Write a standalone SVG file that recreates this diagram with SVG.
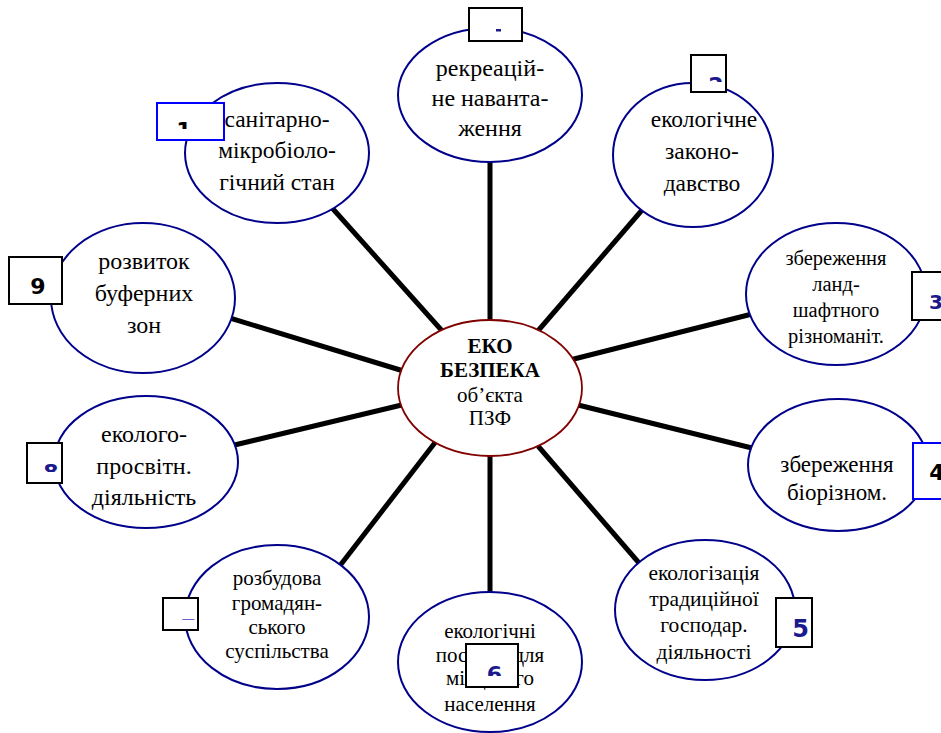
<svg xmlns="http://www.w3.org/2000/svg" width="941" height="733" viewBox="0 0 941 733">
<style>
.sat{fill:#fff;stroke:#00008B;stroke-width:2}
.ctr{fill:#fff;stroke:#800000;stroke-width:1.8}
.t{font-family:"Liberation Serif","Times New Roman",serif;text-anchor:middle;fill:#000}
.bx{fill:#fff;stroke:#000;stroke-width:2}
.bxb{fill:#fff;stroke:#0000FF;stroke-width:2}
.n{font-family:"DejaVu Sans",Verdana,sans-serif;font-weight:bold;text-anchor:middle}
.nb{fill:#000}
.nn{fill:#1A1A8C}
#conn line{stroke:#000;stroke-width:5}
</style>
<defs>
<clipPath id="c1"><rect x="158" y="104" width="65" height="25"/></clipPath>
<clipPath id="c2"><rect x="692" y="56" width="33" height="26"/></clipPath>
<clipPath id="c6"><rect x="467" y="645" width="50" height="31"/></clipPath>
<clipPath id="c7"><rect x="164" y="599" width="33" height="21"/></clipPath>
<clipPath id="c8"><rect x="28" y="444" width="33" height="28"/></clipPath>
</defs>
<rect width="941" height="733" fill="#fff"/>
<g id="conn">
<line x1="490" y1="150" x2="490" y2="330"/>
<line x1="537" y1="332" x2="655" y2="195"/>
<line x1="570" y1="360" x2="760" y2="312"/>
<line x1="570" y1="403" x2="760" y2="450"/>
<line x1="538" y1="446" x2="652" y2="578"/>
<line x1="490" y1="450" x2="490" y2="605"/>
<line x1="444" y1="431" x2="325" y2="585"/>
<line x1="410" y1="403" x2="222" y2="448"/>
<line x1="410" y1="373" x2="220" y2="315"/>
<line x1="444" y1="333" x2="325" y2="200"/>
</g>
<g id="center">
<ellipse class="ctr" cx="490" cy="388" rx="92" ry="68"/>
<text class="t" font-size="21" font-weight="bold"><tspan x="490" y="353">ЕКО</tspan><tspan x="490" y="377">БЕЗПЕКА</tspan></text>
<text class="t" font-size="21"><tspan x="490" y="402">об’єкта</tspan><tspan x="490" y="425">ПЗФ</tspan></text>
</g>
<g id="n-top">
<ellipse class="sat" cx="490" cy="95" rx="92" ry="67"/>
<text class="t" font-size="24"><tspan x="490" y="76">рекреацій-</tspan><tspan x="490" y="106">не наванта-</tspan><tspan x="490" y="136">ження</tspan></text>
</g>
<g id="n-2">
<ellipse class="sat" cx="693" cy="155" rx="80" ry="72"/>
<text class="t" font-size="23.5"><tspan x="704" y="127">екологічне</tspan><tspan x="702" y="159">законо-</tspan><tspan x="702" y="191">давство</tspan></text>
</g>
<g id="n-3">
<ellipse class="sat" cx="836" cy="294" rx="90" ry="71"/>
<text class="t" font-size="20.5"><tspan x="836" y="265">збереження</tspan><tspan x="836" y="291">ланд-</tspan><tspan x="836" y="317">шафтного</tspan><tspan x="836" y="343">різноманіт.</tspan></text>
</g>
<g id="n-4">
<ellipse class="sat" cx="838" cy="465" rx="90" ry="66"/>
<text class="t" font-size="23"><tspan x="837" y="472">збереження</tspan><tspan x="837" y="500">біорізном.</tspan></text>
</g>
<g id="n-5">
<ellipse class="sat" cx="705" cy="610" rx="90" ry="70"/>
<text class="t" font-size="21.5"><tspan x="704" y="580">екологізація</tspan><tspan x="704" y="606">традиційної</tspan><tspan x="704" y="632">господар.</tspan><tspan x="704" y="659">діяльності</tspan></text>
</g>
<g id="n-6">
<ellipse class="sat" cx="490" cy="662" rx="92" ry="70"/>
<text class="t" font-size="21"><tspan x="490" y="638">екологічні</tspan><tspan x="490" y="662">послуги для</tspan><tspan x="490" y="685">місцевого</tspan><tspan x="490" y="711">населення</tspan></text>
</g>
<g id="n-7">
<ellipse class="sat" cx="277" cy="617" rx="92" ry="72"/>
<text class="t" font-size="21"><tspan x="277" y="585">розбудова</tspan><tspan x="277" y="610">громадян-</tspan><tspan x="277" y="634">ського</tspan><tspan x="277" y="658">суспільства</tspan></text>
</g>
<g id="n-8">
<ellipse class="sat" cx="146" cy="462" rx="92" ry="66"/>
<text class="t" font-size="24"><tspan x="144" y="442">еколого-</tspan><tspan x="144" y="474">просвітн.</tspan><tspan x="144" y="505">діяльність</tspan></text>
</g>
<g id="n-9">
<ellipse class="sat" cx="143" cy="298" rx="92" ry="75"/>
<text class="t" font-size="24"><tspan x="144" y="269">розвиток</tspan><tspan x="144" y="301">буферних</tspan><tspan x="144" y="333">зон</tspan></text>
</g>
<g id="n-1">
<ellipse class="sat" cx="277" cy="153" rx="92" ry="70"/>
<text class="t" font-size="23.5"><tspan x="277" y="127">санітарно-</tspan><tspan x="277" y="158">мікробіоло-</tspan><tspan x="277" y="190">гічний стан</tspan></text>
</g>
<g id="labels">
<g id="b-top"><rect class="bx" x="469" y="8" width="53" height="33"/><rect x="496" y="29" width="5" height="2.5" fill="#1A1A8C"/></g>
<g id="b-1"><rect class="bxb" x="157" y="103" width="67" height="37"/><text class="n nb" x="184" y="138" font-size="22" clip-path="url(#c1)">1</text></g>
<g id="b-2"><rect class="bx" x="691" y="55" width="35" height="37"/><text class="n nn" x="716" y="93" font-size="22" clip-path="url(#c2)">2</text></g>
<g id="b-3"><rect class="bx" x="912" y="272" width="40" height="48"/><text class="n nn" x="936" y="309" font-size="20">3</text></g>
<g id="b-4"><rect class="bxb" x="913" y="443" width="40" height="56"/><text class="n nb" x="937" y="480" font-size="22">4</text></g>
<g id="b-5"><rect class="bx" x="776" y="598" width="36" height="49"/><text class="n nn" x="800.5" y="637" font-size="24">5</text></g>
<g id="b-6"><rect class="bx" x="466" y="644" width="52" height="43"/><text class="n nn" x="494.5" y="682" font-size="22" clip-path="url(#c6)">6</text></g>
<g id="b-7"><rect class="bx" x="163" y="598" width="35" height="32"/><text class="n" fill="#6666CC" x="188.5" y="635" font-size="22" clip-path="url(#c7)">7</text></g>
<g id="b-8"><rect class="bx" x="27" y="443" width="35" height="40"/><text class="n nn" x="51" y="480" font-size="22" clip-path="url(#c8)">8</text></g>
<g id="b-9"><rect class="bx" x="9" y="257" width="53" height="47"/><text class="n nb" x="38" y="294" font-size="22">9</text></g>
</g>
</svg>
